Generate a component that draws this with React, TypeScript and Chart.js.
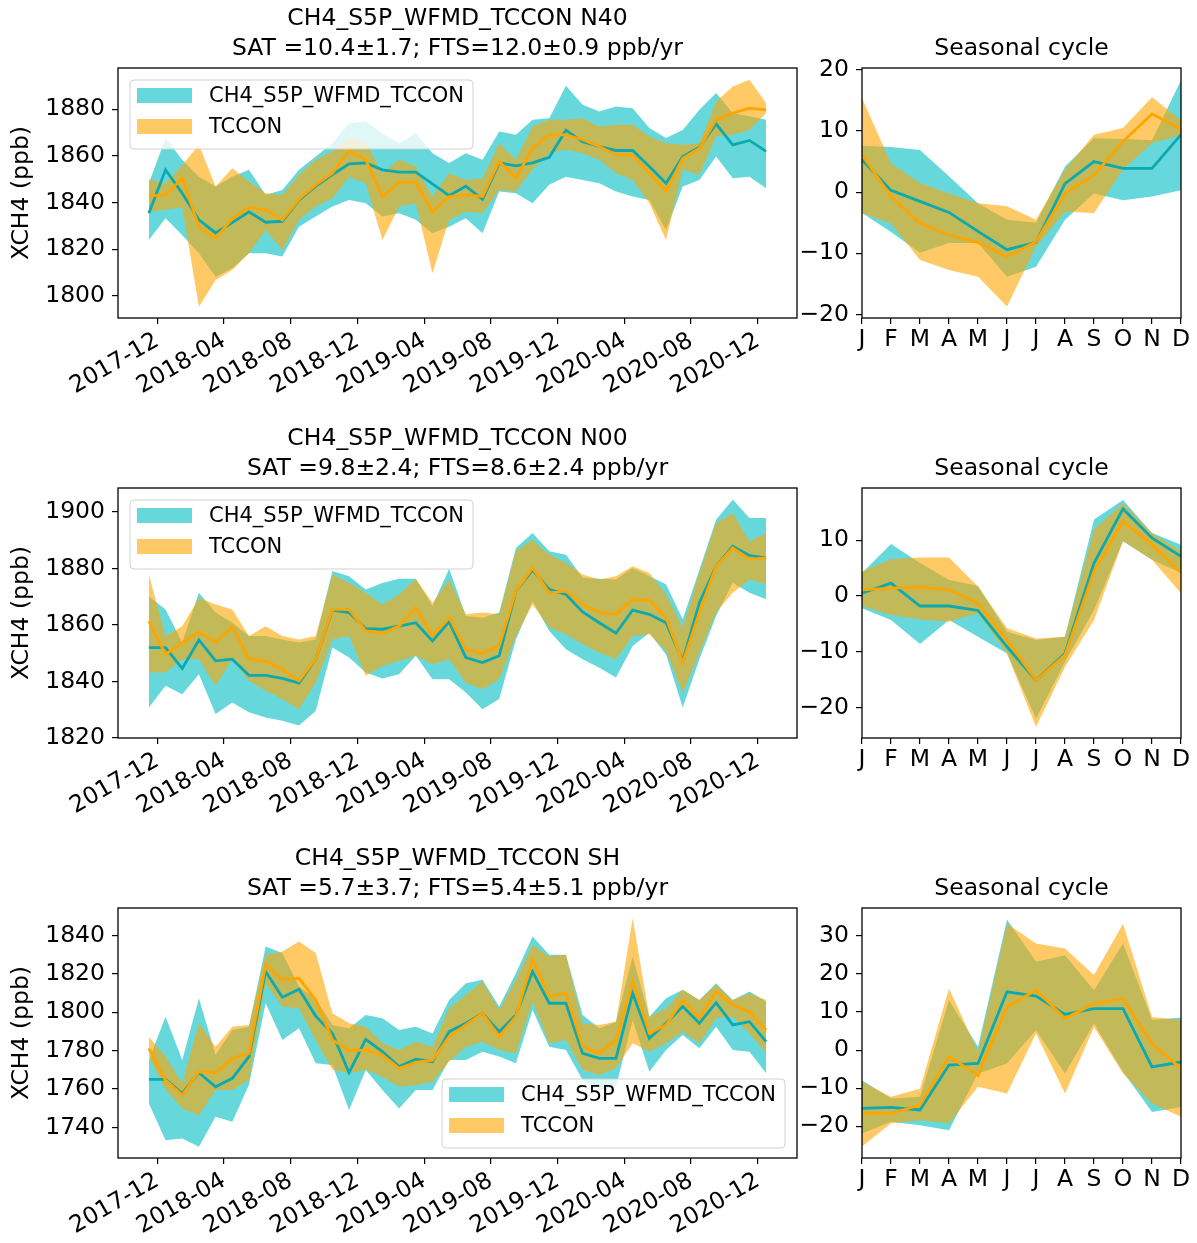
import React, { useEffect, useRef } from "react";
import { Chart, registerables } from "chart.js";

Chart.register(...registerables);

// ---------------- data ----------------
const MONTHS = [
  "2017-11", "2017-12", "2018-01", "2018-02", "2018-03", "2018-04", "2018-05", "2018-06", "2018-07", "2018-08",
  "2018-09", "2018-10", "2018-11", "2018-12", "2019-01", "2019-02", "2019-03", "2019-04", "2019-05", "2019-06",
  "2019-07", "2019-08", "2019-09", "2019-10", "2019-11", "2019-12", "2020-01", "2020-02", "2020-03", "2020-04",
  "2020-05", "2020-06", "2020-07", "2020-08", "2020-09", "2020-10", "2020-11", "2020-12",
];
const DATE_TICKS = ["2017-12", "2018-04", "2018-08", "2018-12", "2019-04", "2019-08", "2019-12", "2020-04", "2020-08", "2020-12"];
const SEASON_LABELS = ["J", "F", "M", "A", "M", "J", "J", "A", "S", "O", "N", "D"];
const SERIES_NAMES = ["CH4_S5P_WFMD_TCCON", "TCCON"];

// N40
const N40_TITLE = ["CH4_S5P_WFMD_TCCON N40", "SAT =10.4±1.7; FTS=12.0±0.9 ppb/yr"];
const N40_YTICKS = [1800, 1820, 1840, 1860, 1880];
const N40_SAT = [1835.4, 1854.0, 1844, 1832.6, 1827, 1831.4, 1836, 1831.6, 1832, 1841, 1847, 1852, 1856.6, 1857, 1854, 1853, 1853, 1848, 1843, 1847, 1841.4, 1857, 1855.7, 1857, 1859.4, 1871, 1866, 1864, 1862.3, 1862.3, 1855.4, 1848.3, 1859.7, 1863.7, 1873.7, 1864.7, 1866.6, 1861.9];
const N40_SAT_HI = [1848.3, 1867.6, 1858.3, 1851.1, 1846.9, 1851.1, 1854, 1843.3, 1845.4, 1854, 1859.7, 1865.4, 1874, 1874.7, 1869.7, 1865.4, 1869.7, 1861.1, 1856.9, 1861.1, 1858.3, 1870.4, 1869, 1875.4, 1876.1, 1890, 1881.9, 1879, 1881.1, 1880.4, 1871.9, 1867.6, 1871.1, 1879.7, 1886.9, 1878.3, 1876.9, 1875.4];
const N40_SAT_LO = [1824, 1833.3, 1826, 1818.3, 1808.3, 1811.9, 1818.3, 1818.3, 1816.9, 1829.7, 1834, 1838.3, 1841.1, 1839.7, 1834, 1835.4, 1832.6, 1826.9, 1829.7, 1833.3, 1826.9, 1844.7, 1844, 1839.7, 1847.6, 1851.1, 1849.7, 1848.3, 1844.7, 1842.6, 1841.1, 1828.3, 1846.9, 1849.7, 1859.7, 1850.4, 1851.1, 1846.1];
const N40_FTS = [1842.9, 1843.3, 1850.4, 1829.7, 1824.7, 1833.3, 1837.9, 1836.9, 1832.6, 1841.4, 1847.6, 1852.6, 1862.3, 1858.3, 1842.6, 1848.6, 1848.6, 1836.1, 1842.6, 1843.3, 1842.6, 1857.6, 1850.4, 1863.3, 1869, 1869, 1866.9, 1864, 1860.4, 1860.4, 1852.6, 1844.7, 1859, 1863.3, 1875.4, 1878.3, 1880.4, 1879.7];
const N40_FTS_HI = [1850, 1848.3, 1856, 1864.7, 1846.9, 1854.7, 1849, 1844, 1843.3, 1851.9, 1858.3, 1861.9, 1868, 1866, 1852.6, 1858.3, 1855.4, 1842.6, 1852.6, 1849.7, 1850.4, 1865.4, 1858.3, 1872.6, 1875.4, 1875.4, 1876.1, 1872.6, 1873.3, 1873.3, 1868.3, 1865.4, 1864.7, 1865.4, 1883.3, 1889.7, 1892.6, 1882.6];
const N40_FTS_LO = [1836.1, 1836.9, 1838, 1795.4, 1806.9, 1811.1, 1818.3, 1828.3, 1819.7, 1832.6, 1838.3, 1841.9, 1851, 1848.3, 1824, 1838.3, 1839.7, 1809.7, 1832.6, 1836.1, 1835.4, 1845.4, 1844.7, 1854, 1861.1, 1862.6, 1861.1, 1858.3, 1852.6, 1849.7, 1839.7, 1824, 1854, 1851.9, 1868.3, 1869, 1871.1, 1878.3];
const N40_SEAS_YTICKS = [-20, -10, 0, 10, 20];
const N40_SEAS_SAT = [5.3, 0.3, -1.5, -3.3, -6.4, -9.4, -8.2, 1.4, 5.0, 3.9, 3.9, 9.4];
const N40_SEAS_SAT_HI = [7.6, 7.4, 6.9, 2.6, -1.8, -4.5, -5.0, 4.2, 8.8, 8.7, 8.5, 18.3];
const N40_SEAS_SAT_LO = [-3.4, -6.5, -9.9, -8.3, -8.3, -13.8, -12.2, -4.5, -0.2, -1.3, -0.7, 0.3];
const N40_SEAS_FTS = [6.1, -0.7, -5.1, -7.0, -8.2, -10.5, -8.1, -0.2, 2.8, 8.3, 12.8, 10.3];
const N40_SEAS_FTS_HI = [15.4, 4.7, 1.5, -0.2, -1.8, -2.3, -4.5, 3.7, 9.4, 10.5, 15.5, 11.8];
const N40_SEAS_FTS_LO = [-3.4, -5.1, -11.1, -12.7, -13.8, -18.7, -8.9, -3.2, -3.4, 3.7, 8.0, 9.4];

// N00
const N00_TITLE = ["CH4_S5P_WFMD_TCCON N00", "SAT =9.8±2.4; FTS=8.6±2.4 ppb/yr"];
const N00_YTICKS = [1820, 1840, 1860, 1880, 1900];
const N00_SAT = [1852, 1852, 1844.6, 1854.7, 1847.3, 1847.9, 1842.2, 1842.2, 1841.1, 1839.4, 1847.9, 1865.3, 1864.4, 1858.7, 1858.5, 1859.6, 1860.8, 1854.4, 1861.1, 1848.5, 1846.7, 1849.1, 1872, 1879.4, 1872.6, 1870.8, 1864.6, 1860.8, 1857.1, 1865.3, 1863.8, 1860.8, 1847.3, 1867.9, 1880.8, 1887.9, 1884.6, 1883.8];
const N00_SAT_HI = [1870.2, 1865.5, 1853.8, 1871.4, 1864.4, 1860.8, 1856.1, 1856.1, 1854.9, 1853.8, 1854.9, 1879.1, 1877.3, 1872.6, 1874.9, 1876.4, 1876.4, 1866.7, 1879.9, 1863.2, 1862.6, 1864.4, 1887.3, 1892.6, 1886.1, 1884.9, 1876.7, 1876.4, 1876.1, 1880.2, 1877.3, 1874.4, 1862, 1879.6, 1897.3, 1904.4, 1897.9, 1897.9];
const N00_SAT_LO = [1830.8, 1838.5, 1835.5, 1842.6, 1828.5, 1832.6, 1829.1, 1827.3, 1826.1, 1824.4, 1829.6, 1852, 1848.5, 1843.2, 1841.1, 1842.6, 1849.1, 1840.8, 1840.8, 1836.1, 1830.2, 1833.8, 1854.9, 1868.5, 1857.9, 1851.4, 1847.9, 1844.9, 1841.4, 1852.6, 1857.3, 1849.6, 1830.8, 1847.9, 1863.2, 1875, 1871.4, 1869.1];
const N00_FTS = [1861.4, 1849.6, 1853.8, 1857.5, 1854, 1859.4, 1847.9, 1847.3, 1844.4, 1840.2, 1847.9, 1865.5, 1865.5, 1857.9, 1857.1, 1859.6, 1866.1, 1856.1, 1862.6, 1851.4, 1850, 1852.6, 1872, 1880.2, 1871.4, 1872, 1867.3, 1864.4, 1863.8, 1869.1, 1868.8, 1862.6, 1846.7, 1864.4, 1880.8, 1887.3, 1883.2, 1883.8];
const N00_FTS_HI = [1877.9, 1856.1, 1859.6, 1869.6, 1867.3, 1865.5, 1856.1, 1859.6, 1856.1, 1854.9, 1856.1, 1877.9, 1874.9, 1871.4, 1867.3, 1870.8, 1876.4, 1867.9, 1876.1, 1863.8, 1864.4, 1863.8, 1886.1, 1890.2, 1884.9, 1882, 1877.9, 1876.1, 1877.3, 1880.8, 1878.4, 1870.8, 1859.1, 1878.4, 1896.1, 1899.6, 1889.6, 1892.6];
const N00_FTS_LO = [1843.2, 1843.2, 1847.9, 1847.9, 1838.5, 1847.9, 1840.2, 1836.7, 1833.8, 1830.2, 1839.6, 1854.9, 1856.1, 1842, 1845.5, 1847.3, 1849.1, 1846.1, 1847.9, 1839.6, 1837.3, 1840.8, 1856.1, 1867.3, 1859.1, 1856.7, 1853.2, 1850.2, 1847.9, 1856.1, 1856.7, 1850.8, 1836.1, 1850.2, 1864.4, 1871.4, 1876.1, 1874.4];
const N00_SEAS_YTICKS = [-20, -10, 0, 10];
const N00_SEAS_SAT = [0.5, 2.3, -1.8, -1.8, -2.6, -9.1, -15.1, -10.3, 5.9, 15.6, 10.4, 7.1];
const N00_SEAS_SAT_HI = [4.1, 9.3, 5.9, 2.9, 1.8, -6.4, -7.9, -7.3, 13.7, 17.2, 11.3, 9.2];
const N00_SEAS_SAT_LO = [-2.2, -4.3, -8.6, -4.3, -7.3, -10.3, -22, -11.8, -2.5, 9.8, 6.5, 4.1];
const N00_SEAS_FTS = [1.1, 1.4, 1.6, 1.1, -1.3, -7.9, -15.1, -10.6, 4.4, 13.4, 9.2, 4.2];
const N00_SEAS_FTS_HI = [4.4, 6.6, 6.9, 6.9, 1.7, -5.8, -7.6, -7.3, 11.9, 16.6, 11.3, 8.0];
const N00_SEAS_FTS_LO = [-1.8, -3.4, -4.2, -4.6, -3.1, -10.3, -23.5, -12.7, -4.3, 9.8, 6.5, 0.5];

// SH
const SH_TITLE = ["CH4_S5P_WFMD_TCCON SH", "SAT =5.7±3.7; FTS=5.4±5.1 ppb/yr"];
const SH_YTICKS = [1740, 1760, 1780, 1800, 1820, 1840];
const SH_SAT = [1765, 1765, 1757.7, 1768.5, 1761.2, 1765.6, 1776.9, 1821.2, 1807.8, 1812, 1798, 1789, 1768.5, 1785.9, 1779.5, 1771.7, 1775.5, 1774.3, 1789.9, 1794.3, 1799.5, 1789.9, 1798.6, 1821.2, 1804.7, 1804.7, 1778.6, 1776, 1776, 1809.9, 1786.4, 1794.3, 1803, 1794.3, 1805, 1793.4, 1795.1, 1784.7];
const SH_SAT_HI = [1775.1, 1797.7, 1775.1, 1807.3, 1777.7, 1790.8, 1792.5, 1834.3, 1830.8, 1813.4, 1807, 1793.4, 1791.6, 1798.6, 1796.9, 1790.8, 1792.5, 1789, 1806.4, 1815.1, 1816.9, 1803, 1820.3, 1839.5, 1829.9, 1829.9, 1798.6, 1791.7, 1795.1, 1829, 1797.7, 1807.3, 1811.7, 1806.4, 1815.1, 1806.4, 1810.8, 1805.6];
const SH_SAT_LO = [1752.5, 1733.4, 1734.3, 1729.9, 1745.6, 1743, 1762.1, 1804.7, 1785.6, 1791.7, 1773.5, 1772.5, 1749.1, 1769.9, 1759.5, 1749.9, 1759.5, 1759.5, 1775.1, 1775.1, 1779.5, 1776.9, 1773.4, 1801.2, 1782.1, 1780.3, 1764.7, 1759.5, 1761.2, 1796, 1769, 1780.3, 1788.2, 1781.2, 1792.5, 1780.3, 1779.5, 1768.2];
const SH_FTS = [1781.2, 1764.7, 1756.9, 1769, 1768.5, 1776, 1778.6, 1824.7, 1816.9, 1817.7, 1806.4, 1785.6, 1780, 1780.3, 1777.7, 1770.8, 1773.9, 1775.1, 1787.3, 1793.4, 1799.5, 1787.3, 1797.7, 1827.3, 1808.2, 1809.9, 1782.1, 1778.6, 1785.6, 1816, 1789, 1793.4, 1806.4, 1796.9, 1810.8, 1803.8, 1800.3, 1790.8];
const SH_FTS_HI = [1787.3, 1776.9, 1763, 1794.3, 1782.1, 1792.5, 1793.4, 1829.9, 1831.7, 1836.9, 1830.8, 1799.5, 1794.3, 1792.5, 1783.8, 1780.3, 1784.7, 1782.1, 1802.1, 1809, 1816, 1801.2, 1816.9, 1835.1, 1829, 1829.9, 1794.3, 1793.4, 1795.1, 1849, 1797.7, 1802.1, 1811.7, 1806.4, 1814.3, 1806.4, 1809.9, 1806.4];
const SH_FTS_LO = [1776.9, 1759.5, 1749.9, 1746.4, 1759.5, 1759.5, 1764.7, 1815.1, 1802.9, 1802.1, 1785.6, 1770, 1768.2, 1770, 1766.4, 1761.2, 1762.1, 1763.8, 1774.3, 1782.1, 1784.7, 1780.3, 1778.6, 1805.6, 1783.8, 1785.6, 1769.9, 1767.3, 1770.8, 1783.8, 1779.5, 1783.8, 1789.9, 1783.8, 1796.9, 1797.7, 1789, 1778.6];
const SH_SEAS_YTICKS = [-20, -10, 0, 10, 20, 30];
const SH_SEAS_SAT = [-15.3, -15.0, -15.7, -3.9, -3.5, 15.3, 14.2, 9.4, 10.9, 10.9, -4.4, -3.1];
const SH_SEAS_SAT_HI = [-7.9, -12.7, -12.2, 13.1, 0.9, 34.3, 23.2, 24.9, 15.7, 28, 7.9, 8.6];
const SH_SEAS_SAT_LO = [-21.9, -18.8, -19.7, -21, -6.1, -3.5, 5.2, -6.1, 7, -5.7, -16.2, -14.9];
const SH_SEAS_FTS = [-16.6, -16.6, -14.4, -1.7, -6.6, 11.4, 15.7, 8.3, 12.2, 13.5, 1.7, -4.8];
const SH_SEAS_FTS_HI = [-8.3, -12.2, -10.1, 16.2, -0.4, 33.2, 28, 26.7, 19.7, 33.2, 8.7, 7.9];
const SH_SEAS_FTS_LO = [-25.3, -19.2, -18.4, -19.2, -9.6, -11.4, 4.4, -11.4, 6.1, -6.1, -14, -17.5];

// ---------------- styles ----------------
const FONT = "'DejaVu Sans', 'Liberation Sans', sans-serif";
const FS = 23.5;
const TEAL_LINE = "rgb(10,170,176)";
const TEAL_FILL = "rgba(0,190,196,0.6)";
const ORANGE_LINE = "rgb(255,165,0)";
const ORANGE_FILL = "rgba(255,165,0,0.6)";

const monthPos = (m: string) => {
  const [y, mo] = m.split("-").map(Number);
  return (y - 2017) * 12 + (mo - 1);
};

type PanelProps = {
  kind: "ts" | "seas";
  left: number;
  top: number;
  width: number;
  height: number;
  yAxisWidth: number;
  xAxisHeight: number;
  padRight: number;
  title: string[];
  yMin: number;
  yMax: number;
  yTicks: number[];
  sat: number[];
  satHi: number[];
  satLo: number[];
  fts: number[];
  ftsHi: number[];
  ftsLo: number[];
  legend?: "ul" | "lr";
};

function Panel(p: PanelProps) {
  const ref = useRef<HTMLCanvasElement | null>(null);
  useEffect(() => {
    if (!ref.current) return;
    const isTs = p.kind === "ts";
    const xs = isTs ? MONTHS.map((m) => monthPos(m) + 0.5) : SEASON_LABELS.map((_, i) => i);
    const pts = (arr: number[]) => arr.map((v, i) => ({ x: xs[i], y: v }));
    const xTickVals = isTs ? DATE_TICKS.map(monthPos) : SEASON_LABELS.map((_, i) => i);
    const xTickLabels = isTs ? DATE_TICKS : SEASON_LABELS;
    const span = xs[xs.length - 1] - xs[0];
    const xMin = isTs ? xs[0] - 0.05 * span : 0;
    const xMax = isTs ? xs[xs.length - 1] + 0.05 * span : 11;

    const band = (arr: number[], color: string, fill: any) => ({
      data: pts(arr),
      borderWidth: 0,
      borderColor: "rgba(0,0,0,0)",
      backgroundColor: color,
      pointRadius: 0,
      fill,
      tension: 0,
    });
    const line = (arr: number[], color: string) => ({
      data: pts(arr),
      borderWidth: 2.8,
      borderColor: color,
      backgroundColor: color,
      pointRadius: 0,
      fill: false,
      tension: 0,
    });

    const framePlugin = {
      id: "frame",
      afterDraw(chart: any) {
        const { ctx, chartArea: a } = chart;
        ctx.save();
        ctx.strokeStyle = "#000";
        ctx.lineWidth = 1.3;
        ctx.strokeRect(a.left, a.top, a.right - a.left, a.bottom - a.top);
        ctx.restore();
      },
    };

    const legendPlugin = {
      id: "boxLegend",
      afterDraw(chart: any) {
        if (!p.legend) return;
        const { ctx, chartArea: a } = chart;
        ctx.save();
        ctx.font = `21px ${FONT}`;
        const tw = Math.max(...SERIES_NAMES.map((s) => ctx.measureText(s).width));
        const w = 79 + tw + 9;
        const h = 69;
        const x = p.legend === "ul" ? a.left + 12 : a.right - 12 - w;
        const y = p.legend === "ul" ? a.top + 12 : a.bottom - 10 - h;
        const r = 4;
        ctx.beginPath();
        ctx.moveTo(x + r, y);
        ctx.lineTo(x + w - r, y);
        ctx.quadraticCurveTo(x + w, y, x + w, y + r);
        ctx.lineTo(x + w, y + h - r);
        ctx.quadraticCurveTo(x + w, y + h, x + w - r, y + h);
        ctx.lineTo(x + r, y + h);
        ctx.quadraticCurveTo(x, y + h, x, y + h - r);
        ctx.lineTo(x, y + r);
        ctx.quadraticCurveTo(x, y, x + r, y);
        ctx.closePath();
        ctx.fillStyle = "rgba(255,255,255,0.8)";
        ctx.fill();
        ctx.strokeStyle = "rgba(204,204,204,0.9)";
        ctx.lineWidth = 1;
        ctx.stroke();
        const fills = [TEAL_FILL, ORANGE_FILL];
        fills.forEach((c, i) => {
          ctx.fillStyle = c;
          ctx.fillRect(x + 7, y + 8 + i * 31, 55, 15);
        });
        ctx.fillStyle = "#000";
        ctx.textBaseline = "middle";
        ctx.textAlign = "left";
        SERIES_NAMES.forEach((s, i) => ctx.fillText(s, x + 79, y + 17 + i * 31));
        ctx.restore();
      },
    };

    const fmt = (v: number) => (v < 0 ? "\u2212" + Math.abs(v) : String(v));

    const chart = new Chart(ref.current, {
      type: "line",
      data: {
        datasets: [
          line(p.fts, ORANGE_LINE),
          line(p.sat, TEAL_LINE),
          band(p.ftsHi, ORANGE_FILL, "+1"),
          band(p.ftsLo, ORANGE_FILL, false),
          band(p.satHi, TEAL_FILL, "+1"),
          band(p.satLo, TEAL_FILL, false),
        ] as any,
      },
      options: {
        animation: false,
        responsive: false,
        devicePixelRatio: 1,
        events: [],
        layout: { padding: { left: 0, right: p.padRight, top: 0, bottom: 0 } },
        plugins: {
          legend: { display: false },
          tooltip: { enabled: false },
          title: {
            display: true,
            fullSize: false,
            text: p.title,
            color: "#000",
            font: { family: FONT, size: FS, weight: "normal", lineHeight: "30px" } as any,
            padding: { top: 0, bottom: 4 },
          },
        },
        scales: {
          x: {
            type: "linear",
            min: xMin,
            max: xMax,
            afterBuildTicks: (s: any) => {
              s.ticks = xTickVals.map((v) => ({ value: v }));
            },
            afterFit: (s: any) => {
              s.height = p.xAxisHeight;
              s.paddingLeft = 0;
              s.paddingRight = 0;
            },
            ticks: {
              autoSkip: false,
              minRotation: isTs ? 30 : 0,
              maxRotation: isTs ? 30 : 0,
              color: "#000",
              font: { family: FONT, size: FS },
              padding: isTs ? 3 : 2,
              callback: (_v: any, i: number) => xTickLabels[i],
            },
            grid: { drawOnChartArea: false, drawTicks: true, tickLength: 6, color: "#000", lineWidth: 1.2 },
            border: { display: false },
          },
          y: {
            type: "linear",
            min: p.yMin,
            max: p.yMax,
            afterBuildTicks: (s: any) => {
              s.ticks = p.yTicks.map((v) => ({ value: v }));
            },
            afterFit: (s: any) => {
              s.width = p.yAxisWidth;
              s.paddingTop = 0;
              s.paddingBottom = 0;
            },
            ticks: {
              autoSkip: false,
              color: "#000",
              font: { family: FONT, size: FS },
              padding: 7,
              callback: (v: any) => fmt(Number(v)),
            },
            title: {
              display: isTs,
              text: "XCH4 (ppb)",
              color: "#000",
              font: { family: FONT, size: FS },
              padding: { top: 8, bottom: 0 },
            },
            grid: { drawOnChartArea: false, drawTicks: true, tickLength: 6, color: "#000", lineWidth: 1.2 },
            border: { display: false },
          },
        },
      } as any,
      plugins: [framePlugin, legendPlugin],
    });
    return () => chart.destroy();
  }, []);

  return (
    <div style={{ position: "absolute", left: p.left, top: p.top, width: p.width, height: p.height }}>
      <canvas ref={ref} width={p.width} height={p.height} style={{ display: "block" }} />
    </div>
  );
}

const ROW_TOPS = [68, 488, 908];
const PLOT_H = 250;

export default function App() {
  const rows = [
    {
      ts: { title: N40_TITLE, yMin: 1790.6, yMax: 1897.6, yTicks: N40_YTICKS, sat: N40_SAT, satHi: N40_SAT_HI, satLo: N40_SAT_LO, fts: N40_FTS, ftsHi: N40_FTS_HI, ftsLo: N40_FTS_LO, legend: "ul" as const },
      seas: { yMin: -20.56, yMax: 20.3, yTicks: N40_SEAS_YTICKS, sat: N40_SEAS_SAT, satHi: N40_SEAS_SAT_HI, satLo: N40_SEAS_SAT_LO, fts: N40_SEAS_FTS, ftsHi: N40_SEAS_FTS_HI, ftsLo: N40_SEAS_FTS_LO },
    },
    {
      ts: { title: N00_TITLE, yMin: 1820, yMax: 1908.5, yTicks: N00_YTICKS, sat: N00_SAT, satHi: N00_SAT_HI, satLo: N00_SAT_LO, fts: N00_FTS, ftsHi: N00_FTS_HI, ftsLo: N00_FTS_LO, legend: "ul" as const },
      seas: { yMin: -25.45, yMax: 19.35, yTicks: N00_SEAS_YTICKS, sat: N00_SEAS_SAT, satHi: N00_SEAS_SAT_HI, satLo: N00_SEAS_SAT_LO, fts: N00_SEAS_FTS, ftsHi: N00_SEAS_FTS_HI, ftsLo: N00_SEAS_FTS_LO },
    },
    {
      ts: { title: SH_TITLE, yMin: 1724.1, yMax: 1854.3, yTicks: SH_YTICKS, sat: SH_SAT, satHi: SH_SAT_HI, satLo: SH_SAT_LO, fts: SH_FTS, ftsHi: SH_FTS_HI, ftsLo: SH_FTS_LO, legend: "lr" as const },
      seas: { yMin: -28.3, yMax: 37.3, yTicks: SH_SEAS_YTICKS, sat: SH_SEAS_SAT, satHi: SH_SEAS_SAT_HI, satLo: SH_SEAS_SAT_LO, fts: SH_SEAS_FTS, ftsHi: SH_SEAS_FTS_HI, ftsLo: SH_SEAS_FTS_LO },
    },
  ];
  return (
    <div style={{ position: "absolute", left: 0, top: 0, width: 1197, height: 1243, overflow: "hidden", background: "#fff" }}>
      {rows.map((r, i) => {
        const t = ROW_TOPS[i];
        return (
          <React.Fragment key={i}>
            <Panel
              kind="ts"
              left={0}
              top={t - 64}
              width={800}
              height={64 + PLOT_H + 95}
              yAxisWidth={118}
              xAxisHeight={95}
              padRight={3}
              {...r.ts}
            />
            <Panel
              kind="seas"
              left={790}
              top={t - 34}
              width={407}
              height={34 + PLOT_H + 95}
              yAxisWidth={72}
              xAxisHeight={95}
              padRight={16}
              title={["Seasonal cycle"]}
              {...r.seas}
            />
          </React.Fragment>
        );
      })}
    </div>
  );
}
